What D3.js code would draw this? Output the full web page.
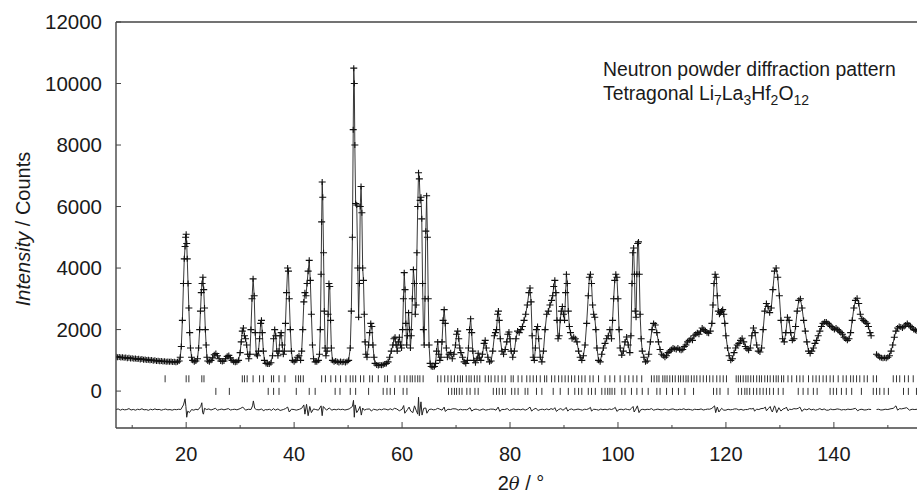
<!DOCTYPE html>
<html>
<head>
<meta charset="utf-8">
<script src="https://cdn.jsdelivr.net/npm/d3@7"></script>
<style>
  body { margin: 0; background: #fff; }
  text { font-family: "Liberation Sans", Arial, sans-serif; fill: #1a1a1a; }
</style>
</head>
<body>
<script>
const obsLow = [[7.0,1120],[7.3,1100],[7.6,1110],[7.9,1090],[8.2,1100],[8.5,1080],[8.8,1090],[9.1,1070],[9.4,1080],[9.7,1060],[10.0,1070],[10.3,1050],[10.6,1060],[10.9,1040],[11.2,1050],[11.5,1030],[11.8,1040],[12.1,1020],[12.4,1030],[12.7,1010],[13.0,1020],[13.3,1000],[13.6,1010],[13.9,990],[14.2,1000],[14.5,980],[14.8,990],[15.1,970],[15.4,980],[15.7,960],[16.0,970],[16.3,955],[16.6,965],[16.9,950],[17.2,960],[17.5,945],[17.8,955],[18.1,940],[18.4,950],[18.7,980],
  [18.9,1100],[19.1,1450],[19.3,2300],[19.5,3500],[19.65,4300],[19.8,4700],[19.9,5000],[20.0,5100],[20.1,4800],[20.2,4300],[20.35,3500],[20.5,2700],[20.65,1900],[20.8,1400],[21.0,1100],[21.2,1000],[21.5,950],[21.8,980],
  [22.1,1050],[22.3,1400],[22.5,2000],[22.65,2600],[22.8,3200],[22.95,3500],[23.1,3700],[23.25,3300],[23.4,2700],[23.55,2000],[23.7,1500],[23.85,1100],[24.0,980],[24.3,950],[24.6,1000],[24.9,1080],[25.2,1180],[25.5,1220],[25.8,1150],[26.1,1050],[26.4,980],[26.7,960],[27.0,980],[27.3,1050],[27.6,1130],[27.9,1160],[28.2,1080],[28.5,1000],[28.8,950],[29.1,940],[29.4,950],[29.7,1000]];
const obsMid1 = [[30.0,1250],[30.2,1600],[30.4,1950],[30.6,2050],[30.8,1800],[31.0,1700],[31.2,1500],[31.4,1200],[31.6,1050],[31.8,1200],[32.0,2000],[32.2,3000],[32.4,3650],[32.6,3100],[32.8,1900],[33.0,1200],[33.2,1150],[33.4,1300],[33.6,1700],[33.8,2200],[33.95,2300],[34.1,1900],[34.3,1300],[34.5,1000],[34.8,900],[35.1,880],[35.4,880],[35.7,920],[36.0,1150],[36.2,1700],[36.4,2000],[36.6,1800],[36.8,1300],[37.0,1150],[37.2,1300],[37.4,1800],[37.6,1900],[37.8,1500],[38.0,1200],[38.2,1300],[38.4,2200],[38.6,3200],[38.8,4000],[38.95,3900],[39.1,3000],[39.3,2000],[39.5,1300],[39.7,1000],[40.0,950],[40.3,1000],[40.6,1100],[40.9,1150],[41.2,1000],[41.4,1300],[41.6,2000],[41.8,2900],[42.0,3200],[42.2,3100],[42.4,3500],[42.6,3900],[42.8,4250],[43.0,3600],[43.2,2500],[43.4,1500],[43.6,1050],[43.9,950],[44.2,950],[44.5,1000],
  [44.7,1200],[44.85,2000],[45.0,3800],[45.1,5500],[45.2,6800],[45.3,6300],[45.45,4500],[45.6,2600],[45.75,1400],[45.9,1150],[46.1,1300],[46.3,2500],[46.45,3500],[46.6,3400],[46.75,2300],[46.9,1400],[47.1,1000],[47.4,950],[47.7,980],[48.0,950],[48.3,930],[48.6,960],[48.9,940],[49.2,950],[49.5,930],[49.8,960],[50.1,1000],[50.4,1400]];
const obsMid2 = [[50.6,2600],[50.8,5000],[50.95,8500],[51.05,10500],[51.15,10000],[51.25,8000],[51.4,6100],[51.6,6050],[51.8,4000],[51.95,2400],[52.1,3500],[52.25,6000],[52.4,6650],[52.55,5800],[52.7,4000],[52.85,3600],[53.0,2500],[53.15,1600],[53.3,1200],[53.5,1100],[53.8,1500],[54.0,1900],[54.2,2200],[54.4,2100],[54.6,1500],[54.8,1100],[55.0,900],[55.3,850],[55.6,830],[55.9,850],[56.2,840],[56.5,860],[56.8,880],[57.1,900],[57.4,950],[57.7,1100],[58.0,1300],[58.3,1500],[58.5,1700],[58.7,1750],[58.9,1500],[59.1,1300],[59.3,1600],[59.5,1750],[59.7,1500],[59.9,1400],
  [60.1,2000],[60.25,3000],[60.4,3850],[60.55,3300],[60.7,2200],[60.85,1500],[61.0,1800],[61.2,2550],[61.4,2000],[61.55,1400],[61.7,1800],[61.9,3000],[62.1,3950],[62.3,3500],[62.45,2500],[62.6,2800],[62.75,4500],[62.9,6000],[63.05,7100],[63.2,6900],[63.35,6200],[63.5,6300],[63.65,5600],[63.8,3500],[63.95,2000],[64.1,1500],[64.25,3000],[64.4,5200],[64.55,6350],[64.7,5000],[64.85,3000],[65.0,1500],[65.2,900],[65.4,800],[65.7,780],[66.0,800]];
const obsMid3 = [[66.2,900],[66.4,1300],[66.6,1600],[66.8,1200],[67.0,1000],[67.2,1100],[67.4,1600],[67.6,2300],[67.8,2650],[68.0,2200],[68.2,1400],[68.4,1100],[68.7,1200],[69.0,1250],[69.3,1050],[69.6,1200],[69.9,1500],[70.1,1850],[70.3,1950],[70.5,1700],[70.7,1400],[70.9,1250],[71.2,1100],[71.5,950],[71.8,900],[72.1,1000],[72.3,1400],[72.5,2000],[72.7,2350],[72.9,1900],[73.1,1300],[73.3,1000],[73.6,920],[73.9,1050],[74.1,1230],[74.3,1100],[74.6,1000],[74.9,1200],[75.2,1550],[75.4,1650],[75.6,1400],[75.9,1100],[76.2,950],[76.5,980],[76.8,1300],[77.1,1800],[77.3,1900],[77.5,2000],[77.7,2500],[77.85,2600],[78.0,2300],[78.2,1700],[78.5,1300],[78.8,1200],[79.1,1350],[79.4,1600],[79.6,1850],[79.8,1920],[80.0,1700],[80.2,1300],[80.5,1100],[80.8,1300],[81.1,1700],[81.4,1950],[81.7,1900],[82.0,2000],[82.3,2100],[82.6,2300],[82.9,2500],[83.2,2800],[83.5,3200],[83.7,3350],[83.9,2900],[84.1,1800],[84.3,1100],[84.5,1000],[84.7,1400],[84.9,2000],[85.1,2100],[85.3,1700],[85.6,1100],[85.9,950],[86.2,1300],[86.5,2000],[86.8,2500],[87.1,2600],[87.4,2800],[87.7,2950],[87.9,3100],[88.1,3400],[88.3,3600],[88.5,3200],[88.7,2300],[88.9,1700],[89.1,1800],[89.3,2300],[89.5,2600],[89.7,2750],[89.9,2500]];
const obsHigh1 = [[90.1,2300],[90.3,3200],[90.45,3800],[90.6,3500],[90.8,2600],[91.0,2100],[91.2,1900],[91.5,1700],[91.8,1750],[92.1,1700],[92.4,1600],[92.7,1300],[93.0,1100],[93.3,1000],[93.6,1150],[93.9,1500],[94.2,2200],[94.5,3100],[94.7,3700],[94.9,3800],[95.1,3500],[95.3,2800],[95.5,2500],[95.7,2400],[95.9,2000],[96.1,1400],[96.4,1000],[96.7,950],[97.0,1200],[97.3,1400],[97.6,1550],[97.9,1700],[98.2,1800],[98.5,2000],[98.8,1700],[99.0,2300],[99.2,3000],[99.4,3600],[99.6,3800],[99.8,3700],[100.0,3000],[100.2,2000],[100.4,1400],[100.7,1170],[101.0,1300],[101.3,1600],[101.6,1760],[101.9,1500],[102.2,1250],[102.4,1800],[102.6,3500],[102.75,4500],[102.9,4650],[103.05,3800],[103.2,2600],[103.35,2400],[103.5,3800],[103.65,4800],[103.8,4850],[103.95,3800],[104.1,2500],[104.3,1700],[104.5,1300],[104.8,1100],[105.1,950],[105.4,980],[105.7,1200],[106.0,1600],[106.3,2000],[106.6,2200],[106.9,2150],[107.2,1900],[107.5,1600],[107.8,1350],[108.1,1200],[108.4,1150],[108.7,1100],[109.0,1150],[109.3,1250],[109.6,1300],[109.9,1350],[110.2,1400],[110.5,1380],[110.8,1350],[111.1,1400],[111.4,1350],[111.7,1330],[112.0,1350],[112.3,1450],[112.6,1500],[112.9,1600],[113.2,1650],[113.5,1700],[113.8,1650],[114.1,1800],[114.4,1850],[114.7,1900],[115.0,1850],[115.3,1950],[115.6,2050],[115.9,2000],[116.2,1950],[116.5,1900],[116.8,1880],[117.1,1950],[117.4,2200],[117.6,2800],[117.8,3500],[118.0,3800],[118.2,3700],[118.4,3100],[118.6,2600],[118.8,2500],[119.0,2550],[119.2,2600],[119.4,2650],[119.6,2500],[119.8,2200]];
const obsHigh2 = [[120.0,1800],[120.3,1400],[120.6,1150],[120.9,1000],[121.2,1050],[121.5,1250],[121.8,1400],[122.1,1500],[122.4,1550],[122.7,1650],[123.0,1720],[123.3,1600],[123.6,1450],[123.9,1380],[124.2,1330],[124.5,1400],[124.8,1800],[125.1,2050],[125.4,1900],[125.7,1500],[126.0,1300],[126.3,1270],[126.6,1400],[126.9,2000],[127.2,2600],[127.5,2850],[127.8,2750],[128.1,2550],[128.4,2700],[128.7,3300],[129.0,3900],[129.3,4000],[129.6,3700],[129.9,3100],[130.2,2300],[130.5,1700],[130.8,1600],[131.1,1900],[131.4,2400],[131.7,2300],[132.0,1900],[132.3,1650],[132.6,1700],[132.9,2100],[133.2,2600],[133.5,2950],[133.8,3000],[134.1,2700],[134.4,2300],[134.7,1950],[135.0,1600],[135.3,1300],[135.6,1220],[135.9,1300],[136.2,1400],[136.5,1550],[136.8,1650],[137.1,1800],[137.4,1950],[137.7,2100],[138.0,2200],[138.3,2250],[138.6,2250],[138.9,2200],[139.2,2150],[139.5,2100],[139.8,2050],[140.1,2000],[140.4,2050],[140.7,2000],[141.0,1950],[141.3,1900],[141.6,1850],[141.9,1750],[142.2,1700],[142.5,1650],[142.8,1700],[143.1,1900],[143.4,2300],[143.7,2700],[144.0,2950],[144.3,3020],[144.6,2850],[144.9,2500],[145.2,2350],[145.5,2300],[145.8,2250],[146.1,2200],[146.4,2100],[146.7,1900],[146.9,1800]];
const obsTail = [[147.9,1200],[148.2,1150],[148.5,1100],[148.8,1080],[149.1,1070],[149.4,1080],[149.7,1070],[150.0,1100],[150.3,1150],[150.6,1300],[150.9,1500],[151.2,1750],[151.5,1950],[151.8,2050],[152.1,2100],[152.4,2080],[152.7,2050],[153.0,2100],[153.3,2150],[153.6,2200],[153.9,2150],[154.2,2100],[154.5,2050],[154.8,2000],[155.1,1980],[155.4,1950]];

// obs - calc difference curve
const diffLow = [[7,-600],[7.4,-580],[7.8,-620],[8.2,-590],[8.6,-610],[9,-600],[9.4,-570],[9.8,-615],[10.2,-595],[10.6,-620],[11,-590],[11.4,-605],[11.8,-575],[12.2,-610],[12.6,-600],[13,-625],[13.4,-590],[13.8,-610],[14.2,-580],[14.6,-605],[15,-595],[15.4,-620],[15.8,-600],[16.2,-585],[16.6,-610],[17,-600],[17.4,-620],[17.8,-595],[18.2,-605],[18.6,-590],[19,-600],[19.5,-450],[19.8,-250],[19.95,-500],[20.1,-850],[20.3,-650],[20.6,-700],[21,-600],[21.4,-620],[21.8,-590],[22.2,-610],[22.7,-500],[22.9,-380],[23.05,-700],[23.2,-750],[23.4,-560],[23.8,-600],[24.2,-580],[24.6,-615],[25,-590],[25.4,-560],[25.8,-620],[26.2,-600],[26.6,-585],[27,-610],[27.4,-590],[27.8,-570],[28.2,-615],[28.6,-600],[29,-590],[29.4,-610],[30,-570],[30.5,-520],[31,-620],[31.5,-590],[32,-600],[32.3,-480],[32.45,-320],[32.7,-560],[33,-600],[33.5,-610],[34,-580],[34.3,-640],[34.7,-600],[35,-610],[35.4,-590],[35.8,-625],[36.2,-570],[36.5,-620],[37,-580],[37.4,-630],[38,-600],[38.4,-570],[38.8,-520],[39.1,-680],[39.5,-590],[40,-600],[40.4,-620],[41,-590],[41.4,-560],[41.8,-450],[42.0,-750],[42.3,-430],[42.6,-800],[42.9,-500],[43.2,-700],[43.6,-580],[44,-600],[44.5,-620],[45.0,-480],[45.2,-800],[45.4,-500],[46,-620],[46.5,-550],[47,-620],[47.4,-590],[47.8,-610],[48.2,-585],[48.6,-605],[49,-590],[49.4,-615],[49.8,-600],[50.2,-580],[50.8,-500],[51.0,-300],[51.15,-850],[51.3,-450],[51.6,-700],[51.9,-620],[52.2,-500],[52.45,-780],[52.7,-550],[53,-620],[53.4,-590],[54,-580],[54.3,-650],[54.7,-590],[55,-600],[55.4,-620],[55.8,-590],[56.2,-610],[56.6,-580],[57,-590],[57.4,-615],[57.8,-575],[58.2,-610],[58.6,-560],[59,-580],[59.5,-640],[60,-590],[60.3,-470],[60.5,-720],[61.0,-600],[61.3,-520],[61.6,-650],[62.0,-700],[62.3,-480],[62.6,-620],[62.9,-750],[63.05,-200],[63.2,-800],[63.5,-350],[63.7,-780],[64.0,-560],[64.4,-550],[64.6,-720],[65,-600],[65.4,-585],[65.8,-610]];
const diffMid = [[66.2,-600],[66.6,-560],[67,-590],[67.4,-620],[67.8,-520],[68.0,-660],[68.5,-590],[69,-600],[69.4,-575],[70,-580],[70.4,-620],[70.8,-590],[71.2,-610],[71.6,-600],[72,-610],[72.6,-540],[72.9,-650],[73.3,-600],[73.7,-585],[74,-600],[74.4,-625],[75,-580],[75.5,-620],[76,-600],[76.4,-585],[77,-590],[77.4,-620],[77.8,-520],[78.1,-660],[78.5,-595],[79,-600],[79.5,-570],[79.9,-630],[80.3,-600],[80.7,-580],[81.1,-610],[81.5,-590],[82,-610],[82.4,-580],[82.8,-620],[83.2,-590],[83.7,-520],[84,-650],[84.4,-590],[84.8,-560],[85.2,-630],[85.6,-600],[86,-590],[86.4,-610],[86.8,-580],[87.2,-610],[87.6,-570],[88,-600],[88.3,-540],[88.6,-660],[89,-600],[89.4,-570],[89.8,-620],[90.1,-590],[90.4,-530],[90.7,-650],[91,-600],[91.4,-580],[91.8,-615],[92.2,-600],[92.6,-585],[93,-600],[93.4,-620],[93.8,-590],[94.2,-600],[94.6,-570],[94.9,-530],[95.1,-650],[95.5,-590],[96,-600],[96.4,-620],[96.8,-585],[97.2,-605],[97.6,-590],[98,-610],[98.4,-580],[98.8,-600],[99.2,-570],[99.5,-530],[99.8,-660],[100.2,-600],[100.6,-590],[101,-610],[101.4,-580],[101.8,-600],[102.2,-610],[102.5,-560],[102.8,-500],[103.0,-680],[103.3,-590],[103.6,-480],[103.9,-700],[104.2,-610],[104.6,-590],[105,-610],[105.4,-590],[105.8,-600],[106.2,-570],[106.6,-620],[107,-600],[107.4,-585],[107.8,-605],[108.2,-610],[108.6,-585],[109,-600],[109.4,-615],[109.8,-590],[110.2,-580],[110.6,-605],[111,-610],[111.4,-590],[111.8,-600],[112.2,-575],[112.6,-610],[113,-590],[113.4,-600],[113.8,-620],[114.2,-590],[114.6,-600],[115,-600],[115.4,-580],[115.8,-615],[116.2,-600],[116.6,-585],[117,-590],[117.4,-560],[117.9,-480],[118.1,-700],[118.4,-520],[118.7,-680],[119.2,-560],[119.6,-620],[120,-620],[120.4,-590],[120.8,-610],[121.2,-600],[121.6,-580],[122,-580],[122.4,-615],[122.8,-590],[123.2,-620],[123.6,-600],[124,-600],[124.4,-570],[124.8,-580],[125.1,-560],[125.3,-650],[125.7,-590],[126.1,-600],[126.5,-570],[127,-560],[127.3,-520],[127.5,-640],[127.9,-560],[128.2,-500],[128.4,-620],[128.6,-680],[129.0,-480],[129.2,-560],[129.4,-700],[129.8,-540],[130.2,-650],[130.6,-580],[131,-560],[131.2,-520],[131.5,-640],[131.8,-590],[132.2,-600],[132.6,-570],[133,-580],[133.4,-560],[133.7,-520],[134.1,-660],[134.5,-580],[135,-610],[135.4,-570],[135.8,-610],[136.2,-590],[136.6,-620],[137,-600],[137.4,-570],[137.8,-610],[138.2,-580],[138.6,-620],[139,-620],[139.4,-585],[139.8,-605],[140.2,-600],[140.6,-580],[141,-590],[141.4,-615],[141.8,-600],[142.2,-610],[142.6,-585],[143,-600],[143.4,-590],[144,-560],[144.4,-640],[144.8,-600],[145.2,-590],[145.6,-615],[146,-610],[146.4,-590],[146.9,-600]];
const diffTail = [[147.9,-600],[148.3,-590],[148.7,-615],[149.1,-610],[149.5,-590],[150,-600],[150.4,-580],[151,-560],[151.5,-480],[151.8,-620],[152.2,-570],[152.5,-580],[153,-560],[153.5,-540],[154,-620],[154.5,-590],[155,-600],[155.4,-590]];

// Bragg reflection positions (2theta), two rows
const braggTetragonal = [16.1,20.0,20.5,22.9,23.3,30.4,30.8,31.3,32.4,33.6,34.3,35.8,36.2,37.2,38.3,40.3,40.8,41.2,41.7,45.1,45.8,46.8,47.7,48.6,49.6,50.4,50.9,51.4,52.3,52.9,54.0,54.5,55.6,56.8,57.3,58.7,59.6,60.4,60.9,61.5,61.9,62.4,62.9,63.3,63.9,66.6,67.2,67.9,68.5,69.1,69.7,70.3,70.8,71.2,71.9,72.4,72.8,73.4,73.9,74.4,75.4,76.0,76.5,77.2,77.8,78.5,79.1,80.2,80.6,81.5,82.2,83.1,83.7,84.3,84.9,85.6,86.4,86.8,87.7,88.3,89.0,89.6,90.2,90.8,91.4,92.0,92.7,93.3,93.9,94.8,95.4,96.4,97.6,98.5,99.4,100.4,101.3,102.0,102.8,103.5,104.4,106.2,106.7,107.2,107.6,108.3,108.7,109.1,109.6,110.1,110.6,111.2,111.6,112.1,112.6,113.0,113.6,114.1,114.6,115.2,115.8,116.4,117.0,117.6,118.3,118.9,119.5,120.1,121.9,122.3,122.7,123.2,123.7,124.1,124.6,125.1,125.7,126.2,126.6,127.2,127.7,128.2,128.8,129.3,129.7,130.3,130.7,131.5,132.2,133.1,133.7,134.3,135.3,136.1,136.7,137.3,138.0,138.6,139.3,139.9,140.8,141.7,142.3,143.1,143.6,144.2,144.8,145.6,146.2,147.3,147.9,151.0,151.6,152.2,153.1,153.8,154.7];
const braggSecond = [25.5,28.0,35.2,36.2,37.2,40.4,42.8,43.9,47.6,48.5,50.4,51.4,53.8,56.5,57.2,57.8,58.6,60.2,60.9,68.6,69.2,69.7,70.1,70.6,71.1,72.0,72.6,73.5,74.1,76.9,77.5,78.0,78.6,79.1,80.3,80.9,81.5,82.8,83.3,84.9,85.9,88.0,89.3,90.8,92.0,92.7,93.3,94.5,95.1,95.8,97.0,97.6,98.1,98.5,98.9,99.4,100.7,101.3,102.5,103.5,104.5,105.6,107.2,107.8,109.0,110.1,111.2,112.4,114.0,117.7,118.3,118.9,120.4,122.3,122.9,123.5,123.9,124.4,125.1,125.7,126.3,126.9,127.5,128.1,128.8,129.7,130.6,133.4,134.3,135.2,136.2,136.9,139.3,139.9,140.5,141.4,142.3,143.3,145.1,147.3,147.9,148.5,149.3,150.1,152.9,153.8,155.3];
const braggLevels = [400, -10];

const xDomain = [7, 155.4];
const yDomain = [-1200, 12000];
const xMajor = [20, 40, 60, 80, 100, 120, 140];
const xMinor = [10, 30, 50, 70, 90, 110, 130, 150];
const yMajor = [0, 2000, 4000, 6000, 8000, 10000, 12000];

let width = 917
let height = 493
const margin = { top: 22, right: 0, bottom: 65, left: 116 };
let plotWidth = width - margin.left - margin.right;
let plotHeight = height - margin.top - margin.bottom;

let svg = d3.select('body')
    .append('svg')
    .attr('width', width)
    .attr('height', height);

let plot = svg.append('g').attr('transform', `translate(${ margin.left },${ margin.top })`);

let x = d3.scaleLinear().domain(xDomain).range([0, plotWidth]);
let y = d3.scaleLinear().domain(yDomain).range([plotHeight, 0]);

plot.append('clipPath').attr('id', 'clip')
    .append('rect').attr('width', plotWidth).attr('height', plotHeight);

let data = plot.append('g').attr('clip-path', 'url(#clip)');

let line = d3.line().x(d => x(d[0])).y(d => y(d[1]));

let obsMain = [].concat(obsLow, obsMid1, obsMid2, obsMid3, obsHigh1, obsHigh2);
let diffMain = [].concat(diffLow, diffMid);

// calculated profile (solid line)
data.selectAll('path.calc').data([obsMain, obsTail])
    .join('path')
    .attr('class', 'calc')
    .attr('d', line)
    .attr('fill', 'none')
    .attr('stroke', '#222')
    .attr('stroke-width', 0.9);

// observed points as "+" marks
data.selectAll('path.obs').data(obsMain.concat(obsTail))
    .join('path')
    .attr('class', 'obs')
    .attr('transform', d => `translate(${ x(d[0]) },${ y(d[1]) })`)
    .attr('d', 'M-3.5,0H3.5M0,-3V3')
    .attr('stroke', '#111')
    .attr('stroke-width', 1.1)
    .attr('fill', 'none');

// difference
data.selectAll('path.diff').data([diffMain, diffTail])
    .join('path')
    .attr('class', 'diff')
    .attr('d', line)
    .attr('fill', 'none')
    .attr('stroke', '#222')
    .attr('stroke-width', 1);

// reflection markers
[braggTetragonal, braggSecond].forEach((pos, i) => {
    data.append('g').selectAll('line').data(pos)
        .join('line')
        .attr('x1', d => x(d)).attr('x2', d => x(d))
        .attr('y1', y(braggLevels[i]) - 3.5).attr('y2', y(braggLevels[i]) + 3.5)
        .attr('stroke', '#333')
        .attr('stroke-width', 1);
});

// frame
let frameColor = '#444';
plot.append('line').attr('x1', 0).attr('x2', plotWidth).attr('y1', 0).attr('y2', 0)
    .attr('stroke', frameColor).attr('stroke-width', 1.4);
plot.append('line').attr('x1', 0).attr('x2', plotWidth).attr('y1', plotHeight).attr('y2', plotHeight)
    .attr('stroke', frameColor).attr('stroke-width', 1.4);
plot.append('line').attr('x1', 0).attr('x2', 0).attr('y1', 0).attr('y2', plotHeight)
    .attr('stroke', frameColor).attr('stroke-width', 1.4);

// x ticks (inward)
plot.append('g').selectAll('line').data(xMajor)
    .join('line')
    .attr('x1', d => x(d)).attr('x2', d => x(d))
    .attr('y1', plotHeight).attr('y2', plotHeight - 6)
    .attr('stroke', frameColor);
plot.append('g').selectAll('line').data(xMinor)
    .join('line')
    .attr('x1', d => x(d)).attr('x2', d => x(d))
    .attr('y1', plotHeight).attr('y2', plotHeight - 3)
    .attr('stroke', frameColor);
plot.append('g').selectAll('text').data(xMajor)
    .join('text')
    .attr('x', d => x(d))
    .attr('y', plotHeight + 33)
    .attr('text-anchor', 'middle')
    .attr('font-size', 20)
    .text(d => d);

// y ticks
plot.append('g').selectAll('line').data(yMajor)
    .join('line')
    .attr('x1', 0).attr('x2', 5)
    .attr('y1', d => y(d)).attr('y2', d => y(d))
    .attr('stroke', frameColor);
plot.append('g').selectAll('text').data(yMajor)
    .join('text')
    .attr('x', -14)
    .attr('y', d => y(d))
    .attr('dy', '0.36em')
    .attr('text-anchor', 'end')
    .attr('font-size', 20.5)
    .text(d => d);

// axis titles
let xt = svg.append('text')
    .attr('x', 521)
    .attr('y', 490)
    .attr('text-anchor', 'middle')
    .attr('font-size', 20);
xt.append('tspan').text('2');
xt.append('tspan').attr('font-style', 'italic').attr('font-family', 'DejaVu Serif, serif').attr('font-size', 18).text('θ');
xt.append('tspan').text(' / °');

let yt = svg.append('text')
    .attr('transform', 'translate(30,229) rotate(-90)')
    .attr('text-anchor', 'middle')
    .attr('font-size', 20);
yt.append('tspan').attr('font-style', 'italic').text('Intensity');
yt.append('tspan').text(' / Counts');

// annotation
svg.append('text')
    .attr('x', 603).attr('y', 76)
    .attr('font-size', 19.4)
    .text('Neutron powder diffraction pattern');

let formula = svg.append('text')
    .attr('x', 603).attr('y', 100)
    .attr('font-size', 19.4);
[['Tetragonal Li', false], ['7', true], ['La', false], ['3', true], ['Hf', false], ['2', true], ['O', false], ['12', true]]
    .forEach(p => {
        formula.append('tspan')
            .attr('font-size', p[1] ? 14 : 19.4)
            .attr('dy', p[1] ? 5 : -5)
            .text(p[0]);
    });
formula.select('tspan').attr('dy', 0);
</script>
</body>
</html>
